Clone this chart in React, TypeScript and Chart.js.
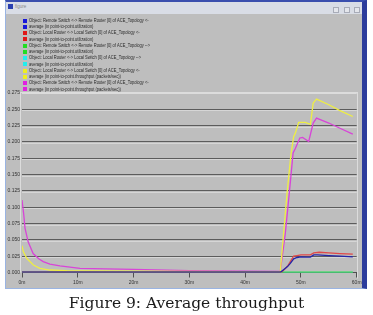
import React, { useEffect, useRef } from 'react';
import { Chart, registerables } from 'chart.js';

Chart.register(...registerables);

// ---- data (time in minutes, values on the shared y axis) ----
const xTickValues = [0, 10, 20, 30, 40, 50, 60];
const xTickLabels = ['0m', '10m', '20m', '30m', '40m', '50m', '60m'];
const yTickValues = [0, 0.025, 0.05, 0.075, 0.1, 0.125, 0.15, 0.175, 0.2, 0.225, 0.25, 0.275];
const yTickLabels = ['0.000', '0.025', '0.050', '0.075', '0.100', '0.125', '0.150', '0.175', '0.200', '0.225', '0.250', '0.275'];

const blueTimes = [0, 46.3, 47.0, 47.6, 48.1, 48.7, 49.3, 50.0, 51.0, 51.7, 52.3, 53.0, 55.0, 57.0, 59.3];
const blueValues = [0.0004, 0.0004, 0.005, 0.009, 0.014, 0.021, 0.023, 0.024, 0.0235, 0.0235, 0.027, 0.027, 0.026, 0.025, 0.024];

const redTimes = [0, 46.5, 47.2, 47.7, 48.1, 48.7, 49.3, 50.0, 51.0, 51.7, 52.3, 53.3, 55.0, 57.0, 59.3];
const redValues = [0.0004, 0.0004, 0.006, 0.011, 0.0166, 0.025, 0.026, 0.027, 0.027, 0.027, 0.030, 0.031, 0.030, 0.029, 0.028];

const greenTimes = [0, 59.3];
const greenValues = [0.0004, 0.0004];

const cyanTimes = [0, 59.3];
const cyanValues = [0.0002, 0.0002];

const yellowTimes = [0, 0.24, 0.84, 2.04, 3.2, 5.0, 8.0, 12, 20, 30, 40, 46.3, 47.0, 47.5, 48.2, 48.7, 49.0, 49.6, 50.8, 51.7, 52.2, 52.8, 55.0, 57.0, 59.3];
const yellowValues = [0.041, 0.032, 0.0217, 0.0115, 0.0064, 0.0038, 0.0028, 0.0024, 0.002, 0.0016, 0.0012, 0.001, 0.07, 0.12, 0.18, 0.208, 0.2135, 0.230, 0.230, 0.227, 0.2595, 0.2657, 0.257, 0.248, 0.239];

const magentaTimes = [0, 0.3, 0.54, 1.1, 2.0, 3.0, 3.8, 5.0, 6.8, 10.4, 15, 20, 30, 40, 46.3, 47.2, 47.9, 48.6, 49.0, 49.8, 50.3, 51.4, 52.2, 52.8, 55.0, 57.0, 59.3];
const magentaValues = [0.111, 0.09, 0.068, 0.047, 0.029, 0.021, 0.0166, 0.013, 0.010, 0.0064, 0.0055, 0.0049, 0.003, 0.002, 0.0015, 0.06, 0.12, 0.183, 0.19, 0.206, 0.207, 0.2007, 0.229, 0.2365, 0.229, 0.221, 0.212];

const legendTexts = [
  'Object: Remote Switch <-> Remote Router [0] of ACE_Topology <-',
  'average (in point-to-point.utilization)',
  'Object: Local Router <-> Local Switch [0] of ACE_Topology <-',
  'average (in point-to-point.utilization)',
  'Object: Remote Switch <-> Remote Router [0] of ACE_Topology -->',
  'average (in point-to-point.utilization)',
  'Object: Local Router <-> Local Switch [0] of ACE_Topology -->',
  'average (in point-to-point.utilization)',
  'Object: Local Router <-> Local Switch [0] of ACE_Topology <-',
  'average (in point-to-point.throughput (packets/sec))',
  'Object: Remote Switch <-> Remote Router [0] of ACE_Topology <-',
  'average (in point-to-point.throughput (packets/sec))',
];
const legendColors = ['#1818d8', '#1818d8', '#e01818', '#e01818', '#22dd22', '#22dd22', '#22eeee', '#22eeee', '#eeee22', '#eeee22', '#e022e0', '#e022e0'];

const lineColors = ['#2424a8', '#e04848', '#44d844', '#44eeee', '#eeee44', '#d844d8'];

function pts(t: number[], v: number[]) {
  return t.map((x, i) => ({ x, y: v[i] }));
}

const framePlugin = {
  id: 'framePlugin',
  beforeDatasetsDraw(chart: any) {
    const { ctx, chartArea } = chart;
    const ys = chart.scales.y;
    ctx.save();
    ctx.strokeStyle = '#d6d6d6';
    ctx.lineWidth = 1;
    yTickValues.forEach((v) => {
      if (v <= 0 || v >= 0.275) return;
      const y = Math.round(ys.getPixelForValue(v)) + 1.5;
      ctx.beginPath();
      ctx.moveTo(chartArea.left, y);
      ctx.lineTo(chartArea.right, y);
      ctx.stroke();
    });
    ctx.strokeStyle = '#dcdcdc';
    ctx.beginPath();
    ctx.moveTo(20.5, chartArea.top - 1);
    ctx.lineTo(20.5, chartArea.bottom);
    ctx.moveTo(20.5, chartArea.top - 0.5);
    ctx.lineTo(Math.round(chartArea.right) + 0.5, chartArea.top - 0.5);
    ctx.moveTo(Math.round(chartArea.right) + 0.5, chartArea.top - 1);
    ctx.lineTo(Math.round(chartArea.right) + 0.5, chartArea.bottom + 6);
    ctx.stroke();
    ctx.restore();
  },
  afterDraw(chart: any) {
    const { ctx } = chart;
    ctx.save();
    const y0 = 20.7;
    const step = 6.24;
    legendTexts.forEach((txt, i) => {
      const cy = y0 + i * step;
      ctx.fillStyle = legendColors[i];
      ctx.fillRect(23, Math.round(cy - 2), 4, 4);
      ctx.fillStyle = '#2a2a2a';
      ctx.font = '4.6px "Liberation Sans", Arial, sans-serif';
      ctx.textBaseline = 'middle';
      ctx.save();
      ctx.translate(29, cy);
      ctx.scale(0.88, 1);
      ctx.fillText(txt, 0, 0);
      ctx.restore();
    });
    ctx.restore();
  },
};

export default function App() {
  const ref = useRef<HTMLCanvasElement | null>(null);
  useEffect(() => {
    if (!ref.current) return;
    const mk = (t: number[], v: number[], c: string) => ({
      data: pts(t, v),
      borderColor: c,
      backgroundColor: c,
      borderWidth: 1.3,
      pointRadius: 0,
      tension: 0,
      fill: false,
    });
    const chart = new Chart(ref.current, {
      type: 'line',
      data: {
        datasets: [
          mk(blueTimes, blueValues, lineColors[0]),
          mk(redTimes, redValues, lineColors[1]),
          mk(greenTimes, greenValues, lineColors[2]),
          mk(cyanTimes, cyanValues, lineColors[3]),
          mk(yellowTimes, yellowValues, lineColors[4]),
          mk(magentaTimes, magentaValues, lineColors[5]),
        ],
      },
      options: {
        animation: false,
        responsive: false,
        events: [],
        layout: { padding: { left: 0, top: 93, right: 16.3, bottom: 27.5 } },
        plugins: { legend: { display: false }, tooltip: { enabled: false }, title: { display: false } },
        scales: {
          x: {
            type: 'linear',
            min: 0,
            max: 60,
            afterFit(scale: any) { scale.height = 15; },
            afterBuildTicks(scale: any) { scale.ticks = xTickValues.map((v) => ({ value: v })); },
            ticks: {
              autoSkip: false,
              maxRotation: 0,
              padding: 2,
              color: '#333',
              font: { size: 5, family: '"Liberation Sans", Arial, sans-serif' },
              callback: (v: any) => { const i = xTickValues.indexOf(Number(v)); return i >= 0 ? xTickLabels[i] : ''; },
            },
            grid: { drawOnChartArea: false, drawTicks: true, tickLength: 5, color: '#505050' },
            border: { display: true, color: '#505050' },
          },
          y: {
            min: 0,
            max: 0.275,
            afterFit(scale: any) { scale.width = 22; },
            afterBuildTicks(scale: any) { scale.ticks = yTickValues.map((v) => ({ value: v })); },
            ticks: {
              autoSkip: false,
              padding: 2,
              color: '#333',
              font: { size: 5, family: '"Liberation Sans", Arial, sans-serif' },
              callback: (v: any) => { const i = yTickValues.findIndex((t) => Math.abs(t - Number(v)) < 1e-6); return i >= 0 ? yTickLabels[i] : ''; },
            },
            grid: {
              drawTicks: false,
              color: (c: any) => (c.tick && Math.abs(c.tick.value - 0.275) < 1e-6 ? '#dcdcdc' : '#5c5c5c'),
            },
            border: { display: false },
          },
        },
      },
      plugins: [framePlugin],
    } as any);
    return () => chart.destroy();
  }, []);

  return (
    <div style={{ position: 'absolute', left: 0, top: 0, width: 373, height: 315, background: '#ffffff', overflow: 'hidden' }}>
      <div style={{ position: 'absolute', left: 5, top: 0, width: 362, height: 289, background: '#bebebe', borderTop: '2px solid #3a4fae', borderLeft: '1px solid #9ab4e2', borderRight: '5px solid #2c3c9c', borderBottom: '1px solid #9ab4e2', boxSizing: 'border-box' }} />
      <div style={{ position: 'absolute', left: 6, top: 2, width: 356, height: 12, background: '#d9dde6' }} />
      <div style={{ position: 'absolute', left: 8, top: 4, width: 5, height: 5, background: '#2a40b0' }} />
      <div style={{ position: 'absolute', left: 15, top: 3, fontSize: 4.5, color: '#888', fontFamily: '"Liberation Sans", Arial, sans-serif', lineHeight: '8px' }}>figure</div>
      {[333, 344, 354].map((x) => (
        <div key={x} style={{ position: 'absolute', left: x, top: 7, width: 6, height: 6, background: '#e4e6ec', border: '1px solid #a8acb8', boxSizing: 'border-box' }} />
      ))}
      <canvas ref={ref} width={373} height={315} style={{ position: 'absolute', left: 0, top: 0, width: 373, height: 315 }} />
      <div style={{ position: 'absolute', left: 0, top: 293, width: 373, textAlign: 'center', fontFamily: '"DejaVu Serif", "Liberation Serif", serif', fontSize: 15.5, color: '#1a1a1a', lineHeight: '20px' }}>
        Figure 9: Average throughput
      </div>
    </div>
  );
}
